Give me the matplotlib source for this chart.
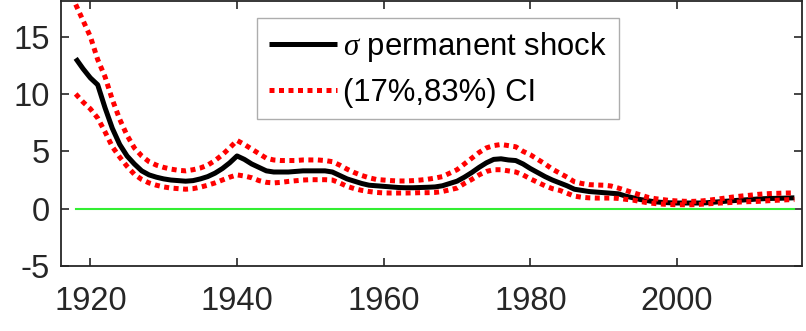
import numpy as np
import matplotlib.pyplot as plt

# --------------------------------
# DATA
# --------------------------------
years = np.arange(1918, 2017)

sigma_perm = [
    13.1, 12.2, 11.4, 10.8, 8.8, 7.0, 5.6, 4.6, 3.9, 3.3,
    2.95, 2.75, 2.6, 2.5, 2.45, 2.4, 2.45, 2.6, 2.8, 3.1,
    3.5, 4.0, 4.6, 4.3, 3.9, 3.6, 3.3, 3.2, 3.2, 3.2,
    3.25, 3.3, 3.3, 3.3, 3.3, 3.2, 2.9, 2.6, 2.4, 2.2,
    2.05, 2.0, 1.95, 1.9, 1.85, 1.83, 1.83, 1.85, 1.87, 1.9,
    2.0, 2.2, 2.4, 2.75, 3.15, 3.6, 4.0, 4.3, 4.35, 4.25,
    4.2, 3.9, 3.5, 3.15, 2.8, 2.5, 2.25, 2.0, 1.7, 1.6,
    1.5, 1.45, 1.4, 1.35, 1.3, 1.1, 0.95, 0.8, 0.7, 0.6,
    0.55, 0.52, 0.5, 0.5, 0.5, 0.5, 0.52, 0.57, 0.62, 0.67,
    0.72, 0.76, 0.8, 0.85, 0.88, 0.9, 0.91, 0.93, 0.95,
]

ci_upper = [
    17.8, 16.4, 15.0, 13.0, 11.5, 9.5, 7.8, 6.4, 5.3, 4.6,
    4.1, 3.8, 3.6, 3.45, 3.35, 3.3, 3.4, 3.55, 3.8, 4.2,
    4.7, 5.3, 5.95, 5.6, 5.2, 4.8, 4.4, 4.25, 4.2, 4.2,
    4.2, 4.25, 4.25, 4.25, 4.2, 4.1, 3.8, 3.45, 3.15, 2.9,
    2.7, 2.55, 2.5, 2.45, 2.42, 2.42, 2.45, 2.5, 2.57, 2.67,
    2.8, 3.1, 3.4, 3.9, 4.4, 4.9, 5.3, 5.5, 5.6, 5.5,
    5.4, 5.0, 4.7, 4.3, 3.9, 3.45, 3.1, 2.75, 2.35, 2.2,
    2.1, 2.07, 2.05, 1.98, 1.8, 1.6, 1.4, 1.2, 1.0, 0.88,
    0.8, 0.72, 0.68, 0.65, 0.64, 0.66, 0.72, 0.8, 0.88, 0.97,
    1.05, 1.12, 1.18, 1.25, 1.3, 1.33, 1.35, 1.37, 1.38,
]

ci_lower = [
    10.0, 9.3, 8.7, 7.9, 6.7, 5.4, 4.5, 3.7, 3.0, 2.55,
    2.25, 2.05, 1.9, 1.8, 1.75, 1.7, 1.75, 1.88, 2.05, 2.25,
    2.5, 2.75, 2.95, 2.85, 2.7, 2.45, 2.3, 2.25, 2.3, 2.38,
    2.44, 2.5, 2.53, 2.53, 2.53, 2.5, 2.25, 1.95, 1.75, 1.6,
    1.5, 1.42, 1.38, 1.37, 1.37, 1.37, 1.38, 1.4, 1.4, 1.42,
    1.5, 1.65, 1.8, 2.2, 2.55, 2.95, 3.25, 3.4, 3.4, 3.3,
    3.2, 2.95, 2.6, 2.3, 2.0, 1.75, 1.6, 1.35, 1.1, 1.0,
    0.95, 0.93, 0.93, 0.93, 0.9, 0.82, 0.75, 0.63, 0.52, 0.45,
    0.4, 0.37, 0.35, 0.35, 0.35, 0.38, 0.42, 0.46, 0.5, 0.53,
    0.57, 0.6, 0.62, 0.64, 0.68, 0.72, 0.75, 0.78, 0.8,
]

x_ticks = [1920, 1940, 1960, 1980, 2000]
y_ticks = [-5, 0, 5, 10, 15]

# --------------------------------
# STYLE
# --------------------------------
plt.rcParams.update({
    "font.family": ["Liberation Sans", "DejaVu Sans"],
    "mathtext.fontset": "custom",
    "mathtext.it": "Liberation Serif:italic",
    "axes.unicode_minus": False,
})

TICK_SIZE = 23.5
LEGEND_SIZE = 22.3
AXIS_COLOUR = "#262626"

fig = plt.figure(figsize=(8.06, 3.31), dpi=100)
ax = fig.add_axes([0.0757, 0.196, 0.919, 0.801])

ax.plot(years, np.zeros(len(years)), color="#33ee33", lw=1.5)
ax.plot(years, sigma_perm, color="black", lw=3.6, solid_capstyle="butt",
        label=r"$\sigma$ permanent shock")
ax.plot(years, ci_upper, color="#ff0000", lw=3.6, linestyle=(0, (1, 0.9)),
        label="(17%,83%) CI")
ax.plot(years, ci_lower, color="#ff0000", lw=3.6, linestyle=(0, (1, 0.9)))

ax.set_xlim(1916, 2017)
ax.set_ylim(-5, 18.1)
ax.set_xticks(x_ticks)
ax.set_yticks(y_ticks)

ax.tick_params(direction="in", length=6, width=1.2, top=True, right=True,
               labelsize=TICK_SIZE, colors=AXIS_COLOUR)
ax.tick_params(axis="x", pad=14)
ax.tick_params(axis="y", pad=8)
for spine in ax.spines.values():
    spine.set_color(AXIS_COLOUR)
    spine.set_linewidth(1.3)

leg = ax.legend(
    loc="upper left",
    bbox_to_anchor=(257 / 806, 1 - 18 / 331),
    bbox_transform=fig.transFigure,
    fontsize=LEGEND_SIZE,
    frameon=True,
    fancybox=False,
    handlelength=2.2,
    handletextpad=0.2,
    borderpad=0.38,
    labelspacing=0.45,
    borderaxespad=0,
)
leg.get_frame().set_edgecolor("#999999")
leg.get_frame().set_linewidth(1.0)

fig.savefig("out.png", dpi=100)
